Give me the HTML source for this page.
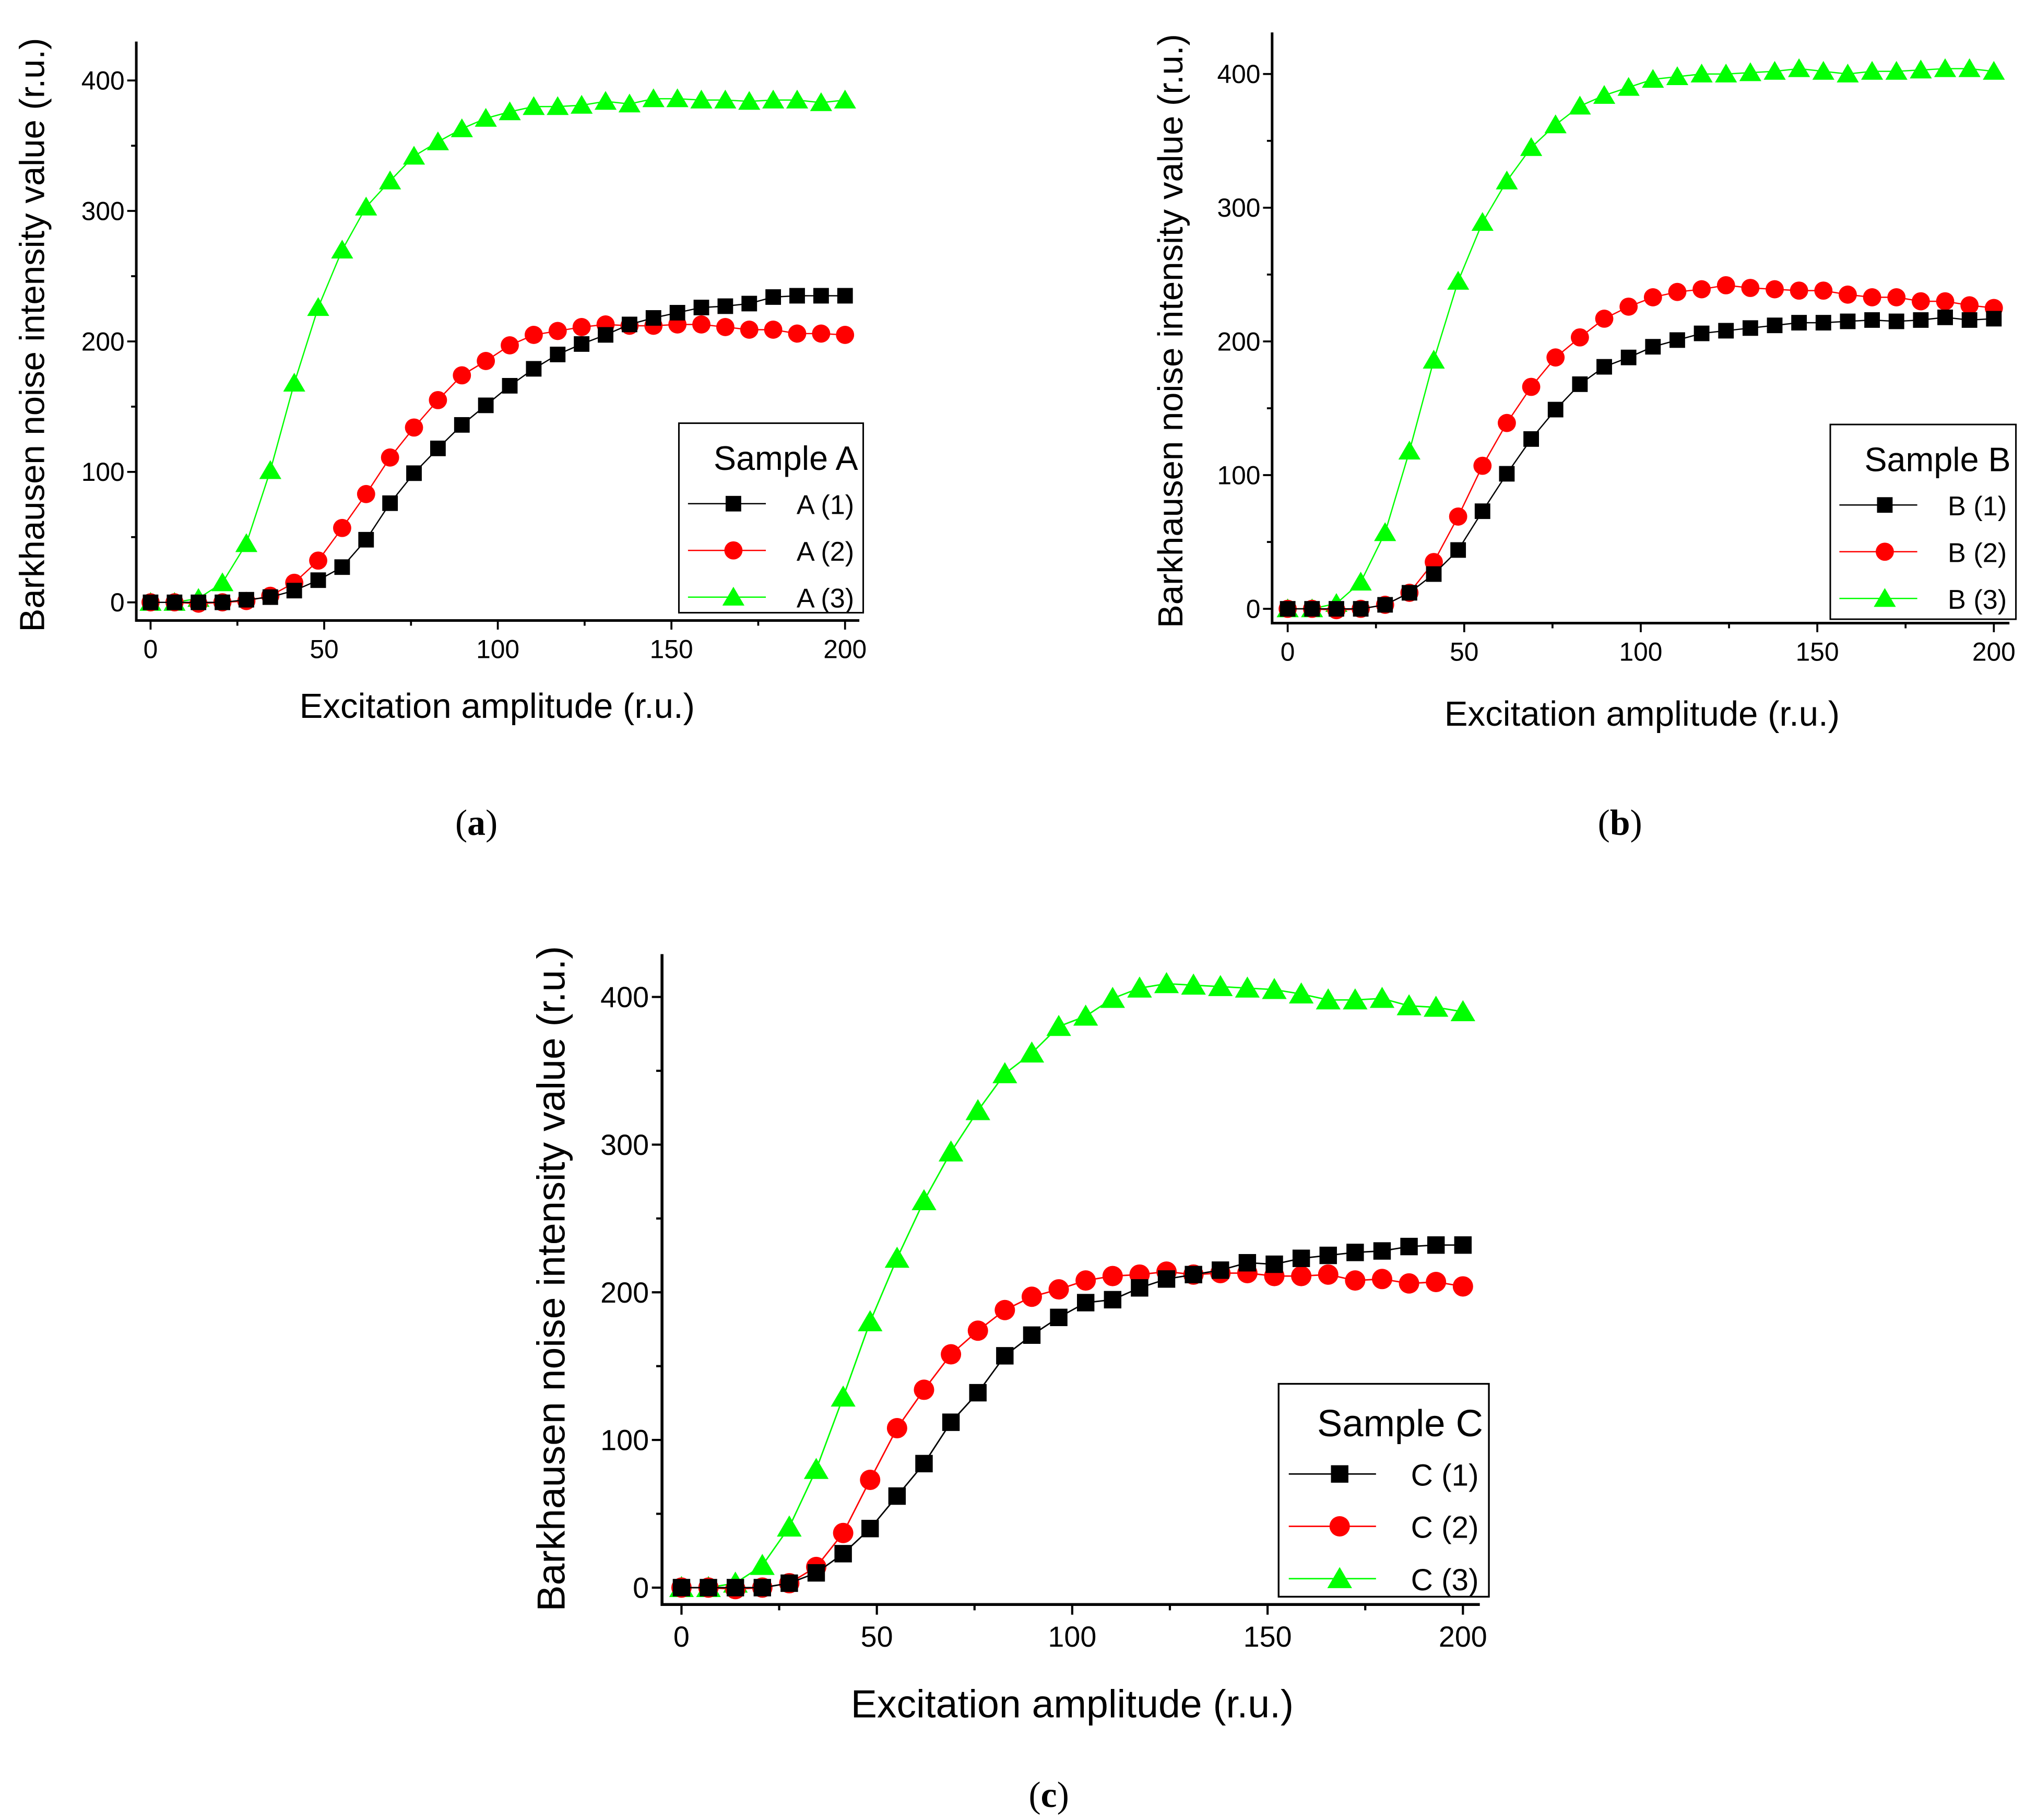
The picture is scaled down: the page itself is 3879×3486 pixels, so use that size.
<!DOCTYPE html>
<html><head><meta charset="utf-8"><style>
html,body{margin:0;padding:0;background:#fff;}
svg{display:block;}
</style></head><body>
<svg id="fig" width="3879" height="3486" viewBox="0 0 1560 1402" preserveAspectRatio="none" xmlns="http://www.w3.org/2000/svg" font-family="Liberation Sans, sans-serif"></svg>
<script>
const xCount = 30;
const xTicks = [0,50,100,150,200];
const yTicks = [0,100,200,300,400];
const a1 = [0,0,0,0,2,4,9,17,27,48,76,99,118,136,151,166,179,190,198,205,213,218,222,226,227,229,234,235,235,235];
const a2 = [0,0,-1,0,1,5,15,32,57,83,111,134,155,174,185,197,205,208,211,213,212,212,213,213,211,209,209,206,206,205];
const a3 = [0,0,3,15,45,101,168,226,270,303,323,342,353,363,371,376,380,380,381,384,382,386,386,385,385,384,385,385,383,385];
const b1 = [0,0,0,0,3,12,26,44,73,101,127,149,168,181,188,196,201,206,208,210,212,214,214,215,216,215,216,218,216,217];
const b2 = [0,0,-1,0,3,12,35,69,107,139,166,188,203,217,226,233,237,239,242,240,239,238,238,235,233,233,230,230,227,225];
const b3 = [0,0,4,20,57,118,186,245,289,320,345,362,376,384,390,396,398,400,400,401,402,404,402,400,402,402,403,404,404,402];
const c1 = [0,0,0,0,3,10,23,40,62,84,112,132,157,171,183,193,195,203,209,212,215,220,219,223,225,227,228,231,232,232];
const c2 = [0,0,-1,0,3,14,37,73,108,134,158,174,188,197,202,208,211,212,214,212,213,213,211,211,212,208,209,206,207,204];
const c3 = [0,0,3,15,41,80,129,180,223,262,295,323,348,362,380,387,399,406,409,408,407,406,405,402,398,398,399,394,393,390];
const xs = Array.from({length:xCount},(_,i)=>i*200/(xCount-1));

const NS="http://www.w3.org/2000/svg";
const svg=document.getElementById('fig');
function mk(tag,attrs,parent){const e=document.createElementNS(NS,tag);for(const k in attrs)e.setAttribute(k,attrs[k]);(parent||svg).appendChild(e);return e;}

function panel(cfg){
  const g=mk('g',{});
  
  
  const X=v=>cfg.x0+(v/200)*(cfg.x200-cfg.x0);
  const Y=v=>cfg.y0+(v/400)*(cfg.y400-cfg.y0);
  const s=cfg.scale;
  const ax=mk('path',{d:`M${cfg.axL},${cfg.axT} V${cfg.axB} H${cfg.axR}`,fill:'none',stroke:'#000','stroke-width':2*s},g);
  
  
  for(let v=0;v<=200;v+=25){
    const maj=v%50===0;
    mk('line',{x1:X(v),x2:X(v),y1:cfg.axB,y2:cfg.axB+(maj?7:4)*s,stroke:'#000','stroke-width':1.5*s},g);
  }
  xTicks.forEach(v=>{const t=mk('text',{x:X(v),y:cfg.axB+29*s,'font-size':20*s,'text-anchor':'middle'},g);t.textContent=v;
    
    });
  for(let v=0;v<=400;v+=50){
    const maj=v%100===0;
    mk('line',{x1:cfg.axL,x2:cfg.axL-(maj?7:4)*s,y1:Y(v),y2:Y(v),stroke:'#000','stroke-width':1.5*s},g);
  }
  yTicks.forEach(v=>{const t=mk('text',{x:cfg.axL-9*s,y:Y(v)+7*s,'font-size':20*s,'text-anchor':'end'},g);t.textContent=v;
    
    });
  const xt=mk('text',{x:cfg.xtx,y:cfg.xty,'font-size':27*s,'text-anchor':'middle'},g);xt.textContent='Excitation amplitude (r.u.)';
  
  
  const yt=mk('text',{x:0,y:0,'font-size':27*s,'text-anchor':'middle',transform:`translate(${cfg.ytx},${cfg.yty}) rotate(-90)`},g);yt.textContent='Barkhausen noise intensity value (r.u.)';
  
  
  const lab=mk('text',{x:cfg.lx,y:cfg.ly,'font-size':28,'font-family':'Liberation Serif, serif','text-anchor':'middle'},g);
  lab.innerHTML='(<tspan font-weight="bold">'+cfg.id+'</tspan>)';
  
  
  const colors=['#000','#f00','#0f0'];
  function marker(type,cx,cy,parent){
    let m;
    if(type===0) m=mk('rect',{x:cx-6*s,y:cy-6*s,width:12*s,height:12*s,fill:'#000'},parent);
    else if(type===1) m=mk('circle',{cx:cx,cy:cy,r:7*s,fill:'#f00'},parent);
    else m=mk('path',{d:`M${cx},${cy-8*s} L${cx+8.5*s},${cy+6.5*s} L${cx-8.5*s},${cy+6.5*s} Z`,fill:'#0f0'},parent);
    return m;
  }
  [2,1,0].forEach(k=>{
    const data=cfg.series[k];
    const sg=mk('g',{},g);
    
    
    mk('polyline',{points:data.map((v,i)=>X(xs[i])+','+Y(v)).join(' '),fill:'none',stroke:colors[k],'stroke-width':1*s},sg);
    data.forEach((v,i)=>{const m=marker(k,X(xs[i]),Y(v),sg);
      
      });
  });
  const L=cfg.leg;
  const lg=mk('g',{},g);
  
  
  mk('rect',{x:L.x,y:L.y,width:L.w,height:L.h,fill:'#fff',stroke:'#000','stroke-width':1.2*s},lg);
  const tt=mk('text',{x:L.x+L.w-4*s,y:L.y+36*s,'font-size':26*s,'text-anchor':'end'},lg);tt.textContent='Sample '+cfg.id.toUpperCase();
  
  
  for(let k=0;k<3;k++){
    const yy=L.y+(62+k*36)*s;
    const eg=mk('g',{},lg);
    
    
    mk('line',{x1:L.x+7*s,x2:L.x+67*s,y1:yy,y2:yy,stroke:colors[k],'stroke-width':1*s},eg);
    marker(k,L.x+42*s,yy,eg);
    const et=mk('text',{x:L.x+L.w-7*s,y:yy+8*s,'font-size':21*s,'text-anchor':'end'},eg);
    et.textContent=cfg.id.toUpperCase()+' ('+(k+1)+')';
  }
}
panel({id:'a',scale:1,x0:116,x200:651,y0:464,y400:62,axL:105,axT:32,axB:478,axR:662,xtx:383,xty:553,ytx:34,yty:258,lx:367,ly:643,
  series:[a1,a2,a3],leg:{x:523,y:326,w:142,h:146}});
panel({id:'b',scale:1,x0:992,x200:1536,y0:469,y400:57,axL:980,axT:25,axB:480,axR:1548,xtx:1265,xty:559,ytx:911,yty:255,lx:1248,ly:643,
  series:[b1,b2,b3],leg:{x:1410,y:327,w:143,h:150}});
panel({id:'c',scale:1.12,x0:525,x200:1127,y0:1223,y400:768,axL:510,axT:735,axB:1236,axR:1140,xtx:826,xty:1323,ytx:435,yty:985,lx:808,ly:1392,
  series:[c1,c2,c3],leg:{x:985,y:1066,w:162,h:164}});
</script>
</body></html>
